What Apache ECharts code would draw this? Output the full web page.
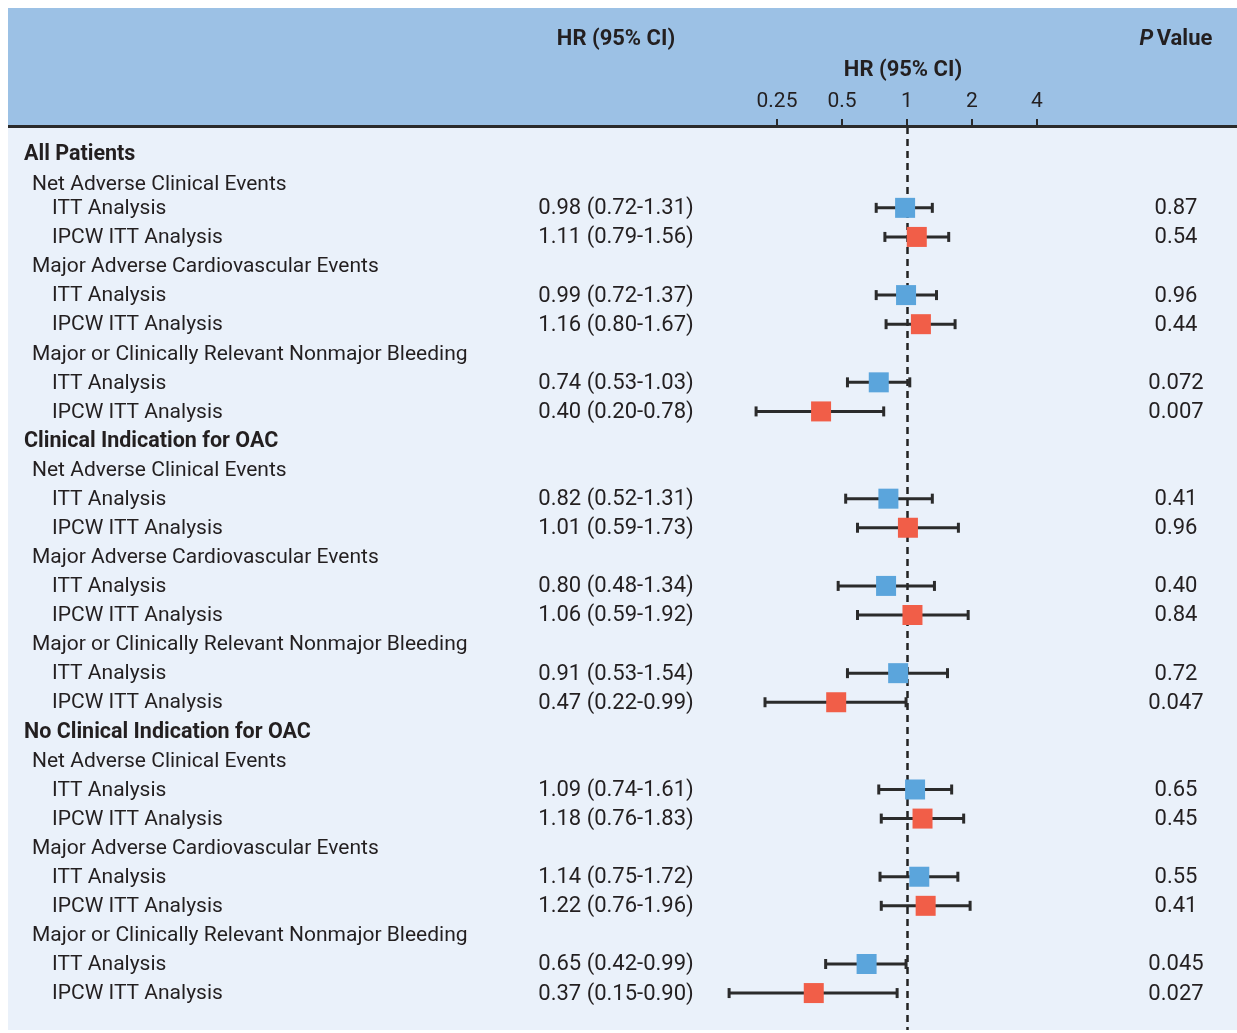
<!DOCTYPE html>
<html>
<head>
<meta charset="utf-8">
<script src="https://cdn.jsdelivr.net/npm/echarts@6/dist/echarts.min.js"></script>
<style>
  html, body { margin: 0; padding: 0; background: #fff; }
  #chart { width: 1237px; height: 1033px; }
</style>
</head>
<body>
<div id="chart"></div>
<script>
// rows top to bottom
const rowLabels = [
  'All Patients', 'Net Adverse Clinical Events', 'ITT Analysis', 'IPCW ITT Analysis',
  'Major Adverse Cardiovascular Events', 'ITT Analysis', 'IPCW ITT Analysis',
  'Major or Clinically Relevant Nonmajor Bleeding', 'ITT Analysis', 'IPCW ITT Analysis',
  'Clinical Indication for OAC', 'Net Adverse Clinical Events', 'ITT Analysis', 'IPCW ITT Analysis',
  'Major Adverse Cardiovascular Events', 'ITT Analysis', 'IPCW ITT Analysis',
  'Major or Clinically Relevant Nonmajor Bleeding', 'ITT Analysis', 'IPCW ITT Analysis',
  'No Clinical Indication for OAC', 'Net Adverse Clinical Events', 'ITT Analysis', 'IPCW ITT Analysis',
  'Major Adverse Cardiovascular Events', 'ITT Analysis', 'IPCW ITT Analysis',
  'Major or Clinically Relevant Nonmajor Bleeding', 'ITT Analysis', 'IPCW ITT Analysis'
];
const rowLevels = [0,1,2,2,1,2,2,1,2,2, 0,1,2,2,1,2,2,1,2,2, 0,1,2,2,1,2,2,1,2,2];
const hrValues = [null,null,0.98,1.11,null,0.99,1.16,null,0.74,0.40,
  null,null,0.82,1.01,null,0.80,1.06,null,0.91,0.47,
  null,null,1.09,1.18,null,1.14,1.22,null,0.65,0.37];
const ciLower = [null,null,0.72,0.79,null,0.72,0.80,null,0.53,0.20,
  null,null,0.52,0.59,null,0.48,0.59,null,0.53,0.22,
  null,null,0.74,0.76,null,0.75,0.76,null,0.42,0.15];
const ciUpper = [null,null,1.31,1.56,null,1.37,1.67,null,1.03,0.78,
  null,null,1.31,1.73,null,1.34,1.92,null,1.54,0.99,
  null,null,1.61,1.83,null,1.72,1.96,null,0.99,0.90];
const pValues = ['','','0.87','0.54','','0.96','0.44','','0.072','0.007',
  '','','0.41','0.96','','0.40','0.84','','0.72','0.047',
  '','','0.65','0.45','','0.55','0.41','','0.045','0.027'];
const tickValues = [0.25, 0.5, 1, 2, 4];

const FONT = 'Roboto';
const TEXT = '#231f20';
const BLUE = '#5ba5dc';
const RED = '#f15e48';
const labelX = [24, 32, 52];
const hrX = 616;
const pX = 1176;

const ittData = [], ipcwData = [], ciData = [], textData = [];
rowLabels.forEach((lab, i) => {
  textData.push([1, i]);
  if (hrValues[i] == null) return;
  ciData.push([ciLower[i], ciUpper[i], i]);
  if (lab === 'ITT Analysis') ittData.push([hrValues[i], i]);
  else ipcwData.push([hrValues[i], i]);
});

const chart = echarts.init(document.getElementById('chart'));
const option = {
  animation: false,
  backgroundColor: '#fff',
  textStyle: { fontFamily: FONT },
  graphic: [
    { type: 'rect', z: -10, shape: { x: 8, y: 8, width: 1229, height: 118 }, style: { fill: '#9cc1e5' } },
    { type: 'rect', z: -10, shape: { x: 8, y: 127, width: 1229, height: 903 }, style: { fill: '#eaf1fa' } },
    { type: 'rect', z: 5, shape: { x: 8, y: 125, width: 1229, height: 3 }, style: { fill: '#2b2b2b' } },
    { type: 'text', x: hrX, y: 39, style: { text: 'HR (95% CI)', font: 'bold 22px ' + FONT, fill: TEXT, align: 'center', verticalAlign: 'middle' } },
    { type: 'text', x: 903, y: 70, style: { text: 'HR (95% CI)', font: 'bold 22px ' + FONT, fill: TEXT, align: 'center', verticalAlign: 'middle' } },
    { type: 'text', x: pX, y: 39, style: {
      text: '{i|P} {b|Value}', align: 'center', verticalAlign: 'middle',
      rich: {
        i: { fontFamily: FONT, fontSize: 22, fontWeight: 'bold', fontStyle: 'italic', fill: TEXT, color: TEXT },
        b: { fontFamily: FONT, fontSize: 22, fontWeight: 'bold', fill: TEXT, color: TEXT }
      }
    } }
  ],
  grid: { left: 712, right: 135, top: 127, bottom: 3 },
  xAxis: {
    type: 'log', logBase: 2, min: 0.125, max: 8, position: 'top',
    axisLine: { show: false, onZero: false },
    splitLine: { show: false },
    axisTick: { show: true, length: 8, customValues: tickValues, lineStyle: { color: '#2b2b2b', width: 2 } },
    axisLabel: { customValues: tickValues, margin: 15, fontSize: 21, color: TEXT, fontFamily: FONT, formatter: v => String(v) }
  },
  yAxis: { type: 'value', inverse: true, min: -0.78, max: 30.27, show: false },
  series: [
    {
      type: 'custom', name: 'CI', z: 2, clip: false,
      data: ciData,
      renderItem: (params, api) => {
        const a = api.coord([api.value(0), api.value(2)]);
        const b = api.coord([api.value(1), api.value(2)]);
        const st = { stroke: '#2b2b2b', lineWidth: 3 };
        return { type: 'group', children: [
          { type: 'line', shape: { x1: a[0], y1: a[1], x2: b[0], y2: b[1] }, style: st },
          { type: 'line', shape: { x1: a[0], y1: a[1] - 5, x2: a[0], y2: a[1] + 5 }, style: st },
          { type: 'line', shape: { x1: b[0], y1: b[1] - 5, x2: b[0], y2: b[1] + 5 }, style: st }
        ] };
      },
      markLine: {
        z: 1, silent: true, symbol: ['none', 'none'], label: { show: false },
        lineStyle: { type: [7, 5], color: '#222', width: 2.5 },
        data: [{ xAxis: 1 }]
      }
    },
    { type: 'scatter', name: 'ITT', z: 4, symbol: 'rect', symbolSize: 20, itemStyle: { color: BLUE, opacity: 1 }, data: ittData },
    { type: 'scatter', name: 'IPCW ITT', z: 4, symbol: 'rect', symbolSize: 20, itemStyle: { color: RED, opacity: 1 }, data: ipcwData },
    {
      type: 'custom', name: 'text', z: 3, clip: false, silent: true,
      data: textData,
      renderItem: (params, api) => {
        const i = api.value(1);
        // the first group's heading rows sit a little lower in the reference
        const shift = i === 0 ? 5 : (i === 1 ? 6 : 1);
        const y = api.coord([1, i])[1] + shift;
        const lvl = rowLevels[i];
        const kids = [{
          type: 'text', x: labelX[lvl], y: y,
          style: { text: rowLabels[i], font: (lvl === 0 ? 'bold 21.5px ' : '21px ') + FONT, fill: TEXT, verticalAlign: 'middle' }
        }];
        if (hrValues[i] != null) {
          kids.push({ type: 'text', x: hrX, y: y, style: {
            text: hrValues[i].toFixed(2) + ' (' + ciLower[i].toFixed(2) + '-' + ciUpper[i].toFixed(2) + ')',
            font: '22px ' + FONT, fill: TEXT, align: 'center', verticalAlign: 'middle' } });
          kids.push({ type: 'text', x: pX, y: y, style: {
            text: pValues[i], font: '22px ' + FONT, fill: TEXT, align: 'center', verticalAlign: 'middle' } });
        }
        return { type: 'group', children: kids };
      }
    }
  ]
};
chart.setOption(option);
</script>
</body>
</html>
